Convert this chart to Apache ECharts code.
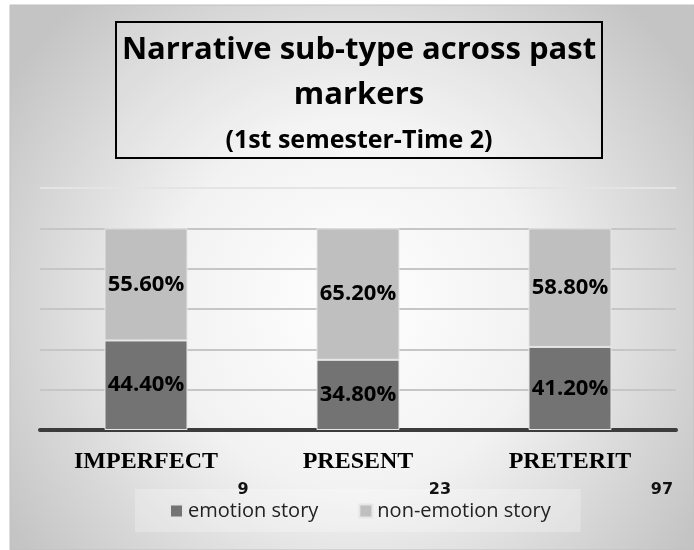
<!DOCTYPE html>
<html>
<head>
<meta charset="utf-8">
<title>Narrative sub-type across past markers</title>
<script src="https://cdn.jsdelivr.net/npm/echarts@6/dist/echarts.min.js"></script>
<style>
  html, body { margin: 0; padding: 0; background: #fff; }
  #chart { width: 694px; height: 550px; }
</style>
</head>
<body>
<div id="chart"></div>
<script>
// categories + stacked shares (%)
const categories = ['IMPERFECT', 'PRESENT', 'PRETERIT'];
const emotionStory = [44.4, 34.8, 41.2];
const nonEmotionStory = [55.6, 65.2, 58.8];
const seriesNames = ['emotion story', 'non-emotion story'];
// stray counts printed under the axis labels
const counts = ['9', '23', '97'];
const yTicks = [0, 20, 40, 60, 80, 100, 120];

const myChart = echarts.init(document.getElementById('chart'));

const countPos = [[243, 490], [440, 490], [662, 490]];

const pctLabel = {
  show: true,
  position: 'inside',
  formatter: p => p.value.toFixed(2) + '%',
  fontFamily: 'Open Sans',
  fontWeight: 'bold',
  fontSize: 22,
  color: '#000'
};

const option = {
  animation: false,
  graphic: [
    {
      // chart area background (radial, white in the middle)
      type: 'rect', z: -10, silent: true,
      shape: { x: 10, y: 5, width: 684, height: 545 },
      style: {
        fill: {
          type: 'radial', x: 0.5, y: 0.55, r: 0.75,
          colorStops: [
            { offset: 0, color: '#ffffff' },
            { offset: 0.45, color: '#f2f2f2' },
            { offset: 1, color: '#c4c4c4' }
          ]
        },
        stroke: '#c0c0c0', lineWidth: 1
      }
    },
    {
      type: 'rect', z: 5,
      shape: { x: 116, y: 22, width: 486, height: 136 },
      style: { fill: 'rgba(255,255,255,0.15)', stroke: '#000', lineWidth: 2 }
    },
    {
      type: 'text', z: 6, x: 359, y: 66,
      style: {
        text: 'Narrative sub-type across past', textAlign: 'center', textVerticalAlign: 'bottom',
        font: 'bold 31px "Open Sans"', fill: '#000'
      }
    },
    {
      type: 'text', z: 6, x: 359, y: 111,
      style: {
        text: 'markers', textAlign: 'center', textVerticalAlign: 'bottom',
        font: 'bold 31px "Open Sans"', fill: '#000'
      }
    },
    {
      type: 'text', z: 6, x: 359, y: 153,
      style: {
        text: '(1st semester-Time 2)', textAlign: 'center', textVerticalAlign: 'bottom',
        font: 'bold 25px "Open Sans"', fill: '#000'
      }
    }
  ].concat(counts.map((c, i) => ({
    type: 'text', z: 6, x: countPos[i][0], y: countPos[i][1],
    style: {
      text: c, textAlign: 'center', textVerticalAlign: 'middle',
      font: 'bold 16px "DejaVu Sans"', fill: '#111'
    }
  }))),
  grid: {
    left: 40,
    right: 18,
    top: 188,
    bottom: 120
  },
  legend: {
    data: seriesNames,
    left: 135,
    top: 489,
    padding: [12, 30, 11, 34],
    itemGap: 40,
    itemWidth: 13,
    itemHeight: 13,
    icon: 'rect',
    backgroundColor: 'rgba(255,255,255,0.25)',
    textStyle: { fontFamily: 'Open Sans', fontSize: 20, color: '#222' }
  },
  xAxis: {
    type: 'category',
    data: categories,
    axisLine: { lineStyle: { color: '#3c3c3c', width: 4 } },
    axisTick: { show: false },
    axisLabel: {
      fontFamily: 'Liberation Serif',
      fontWeight: 'bold',
      fontSize: 24,
      color: '#000',
      margin: 20
    }
  },
  yAxis: {
    type: 'value',
    min: yTicks[0],
    max: yTicks[yTicks.length - 1],
    interval: 20,
    axisLabel: { show: false },
    axisLine: { show: false },
    axisTick: { show: false },
    splitLine: {
      lineStyle: {
        color: ['#c6c6c6', '#c6c6c6', '#c6c6c6', '#c6c6c6', '#c6c6c6', '#c6c6c6', '#e4e4e4'],
        width: 2
      }
    }
  },
  series: [
    {
      name: seriesNames[0],
      type: 'bar',
      stack: 'total',
      barWidth: 83,
      data: emotionStory,
      itemStyle: { color: '#737373', borderColor: '#e6e6e6', borderWidth: 1 },
      label: pctLabel
    },
    {
      name: seriesNames[1],
      type: 'bar',
      stack: 'total',
      barWidth: 83,
      data: nonEmotionStory,
      itemStyle: { color: '#bfbfbf', borderColor: '#e6e6e6', borderWidth: 1 },
      label: pctLabel
    }
  ]
};

myChart.setOption(option);
window.addEventListener('resize', function () {
  myChart.resize();
});
</script>
</body>
</html>
